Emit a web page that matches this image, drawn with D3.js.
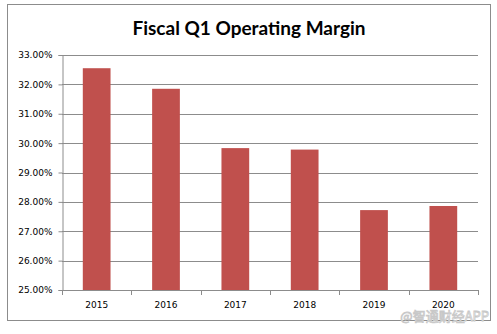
<!DOCTYPE html>
<html><head><meta charset="utf-8">
<script src="https://cdn.jsdelivr.net/npm/d3@7"></script>
<style>body{margin:0;background:#fff}</style>
</head><body>
<script>
const categories = ["2015","2016","2017","2018","2019","2020"];
const margins = [32.55, 31.85, 29.83, 29.78, 27.72, 27.86];
const yTicks = [25,26,27,28,29,30,31,32,33];
const title = "Fiscal Q1 Operating Margin";

(function(){
const W = 497, H = 334;
const svg = d3.select("body").append("svg").attr("width", W).attr("height", H);
svg.append("rect").attr("x",7.5).attr("y",4.5).attr("width",483).attr("height",316)
  .attr("fill","#fff").attr("stroke","#8c8c8c").attr("stroke-width",1);

const pl = 62, pr = 478, pt = 55, pb = 290;
const x = d3.scaleBand().domain(categories).range([pl, pr]).paddingInner(0.6).paddingOuter(0.3);
const y = d3.scaleLinear().domain([25,33]).range([pb, pt]);

svg.append("text").attr("x", 249).attr("y", 35).attr("text-anchor","middle")
  .attr("font-family","Lato, 'Open Sans', sans-serif").attr("font-weight","bold")
  .attr("font-size", 19).attr("fill","#000").text(title);

svg.append("g").selectAll("line").data(yTicks.filter(d=>d>25)).join("line")
  .attr("x1", pl).attr("x2", pr).attr("y1", d=>Math.round(y(d))+0.5).attr("y2", d=>Math.round(y(d))+0.5)
  .attr("stroke","#8c8c8c").attr("stroke-width",1);

const yAxis = svg.append("g").attr("transform",`translate(${pl+0.5},0)`)
  .call(d3.axisLeft(y).tickValues(yTicks).tickSize(4).tickPadding(6).tickFormat(d=>d.toFixed(2)+"%"));
yAxis.selectAll("text").attr("font-family","'DejaVu Sans', sans-serif").attr("font-size",9).attr("fill","#000");
yAxis.selectAll("line,path").attr("stroke","#8c8c8c");

svg.append("g").selectAll("rect").data(categories).join("rect")
  .attr("x", d=>x(d)).attr("width", x.bandwidth())
  .attr("y", (d,i)=>y(margins[i])).attr("height", (d,i)=>pb - y(margins[i]))
  .attr("fill","#C0504D");

const xg = svg.append("g");
xg.append("line").attr("x1",pl).attr("x2",pr).attr("y1",pb+0.5).attr("y2",pb+0.5).attr("stroke","#8c8c8c");
xg.selectAll("line.t").data(d3.range(categories.length+1)).join("line").attr("class","t")
  .attr("x1", i=>Math.round(pl + i*(pr-pl)/categories.length)+0.5)
  .attr("x2", i=>Math.round(pl + i*(pr-pl)/categories.length)+0.5)
  .attr("y1", pb).attr("y2", pb+5).attr("stroke","#8c8c8c");
xg.selectAll("text").data(categories).join("text")
  .attr("x", d=>x(d)+x.bandwidth()/2).attr("y", pb+18).attr("text-anchor","middle")
  .attr("font-family","'DejaVu Sans', sans-serif").attr("font-size",9).attr("fill","#000").text(d=>d);

svg.append("text").attr("x", 489).attr("y", 321).attr("text-anchor","end")
  .attr("font-family","'Noto Sans CJK SC', sans-serif").attr("font-size",13)
  .attr("fill","#fff").attr("stroke","#c8c8c8").attr("stroke-width",0.8).text("@智通财经APP");
})();
</script>
</body></html>
